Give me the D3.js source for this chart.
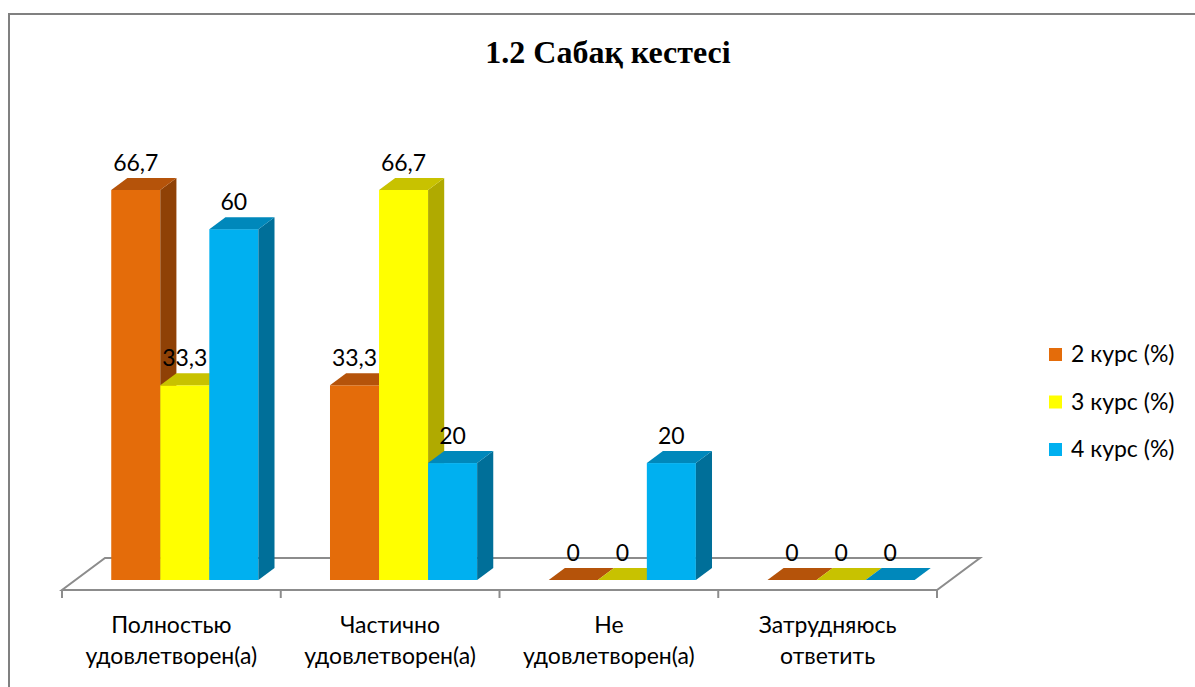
<!DOCTYPE html>
<html>
<head>
<meta charset="utf-8">
<script src="https://cdn.jsdelivr.net/npm/d3@7"></script>
<style>
  body { margin: 0; background: #fff; }
  svg text { font-family: Lato, "Open Sans", sans-serif; }
</style>
</head>
<body>
<div id="chart"></div>
<script>
// chart data
var categories = [["Полностью", "удовлетворен(а)"], ["Частично", "удовлетворен(а)"], ["Не", "удовлетворен(а)"], ["Затрудняюсь", "ответить"]];
var seriesNames = ["2 курс (%)", "3 курс (%)", "4 курс (%)"];
var kurs2 = [66.7, 33.3, 0, 0];
var kurs3 = [33.3, 66.7, 0, 0];
var kurs4 = [60, 20, 20, 0];
var seriesValues = [kurs2, kurs3, kurs4];

var colors = [
  { front: "#e46c0a", top: "#b5530a", side: "#8f4106" },
  { front: "#ffff00", top: "#c8c200", side: "#b0aa00" },
  { front: "#00b0f0", top: "#0088bb", side: "#006f99" }
];

var svgWidth = 1195, svgHeight = 687;

// floor geometry
var floorFront = 590;
var depthX = 43, depthY = 32;
var barPlane = 0.3125, barDepth = 0.375;

var svg = d3.select("#chart").append("svg")
  .attr("width", svgWidth)
  .attr("height", svgHeight);

// outer border
svg.append("rect")
  .attr("x", 9).attr("y", 14)
  .attr("width", 1300).attr("height", 800)
  .attr("fill", "none")
  .attr("stroke", "#808080")
  .attr("stroke-width", 2);

// title
svg.append("text")
  .attr("x", 608).attr("y", 63)
  .attr("text-anchor", "middle")
  .style("font-family", "'Liberation Serif', 'Times New Roman', serif")
  .style("font-weight", "bold")
  .style("font-size", "32px")
  .text("1.2 Сабақ кестесі");

var x0 = d3.scaleBand()
  .domain(d3.range(categories.length))
  .range([62, 937]);

var x1 = d3.scaleBand()
  .domain(d3.range(seriesNames.length))
  .range([0, x0.bandwidth()])
  .paddingOuter(0.73)
  .paddingInner(0);

var barBase = floorFront - depthY * barPlane;
var y = d3.scaleLinear()
  .domain([0, 66.7])
  .range([barBase, 190]);

// floor
var fl = x0.range()[0], fr = x0.range()[1];
svg.append("path")
  .attr("d", "M" + fl + "," + floorFront + "L" + fr + "," + floorFront +
    "L" + (fr + depthX) + "," + (floorFront - depthY) +
    "L" + (fl + depthX) + "," + (floorFront - depthY) + "Z")
  .attr("fill", "#fff")
  .attr("stroke", "#8c8c8c")
  .attr("stroke-width", 2);

// category ticks
svg.selectAll(".tick")
  .data(d3.range(categories.length + 1))
  .enter().append("line")
  .attr("x1", d => fl + d * x0.bandwidth())
  .attr("x2", d => fl + d * x0.bandwidth())
  .attr("y1", floorFront)
  .attr("y2", floorFront + 8)
  .attr("stroke", "#8c8c8c")
  .attr("stroke-width", 2);

var shiftX = depthX * barPlane;
var bdx = depthX * barDepth, bdy = depthY * barDepth;
var bw = x1.bandwidth();

categories.forEach(function(cat, ci) {
  seriesValues.forEach(function(vals, si) {
    var v = vals[ci];
    var xl = x0(ci) + x1(si) + shiftX;
    var xr = xl + bw;
    var yt = y(v);
    var g = svg.append("g");
    var c = colors[si];
    if (v > 0) {
      g.append("rect")
        .attr("x", xl).attr("y", yt)
        .attr("width", bw).attr("height", barBase - yt)
        .attr("fill", c.front);
      g.append("path")
        .attr("d", "M" + xr + "," + yt + "L" + (xr + bdx) + "," + (yt - bdy) +
          "L" + (xr + bdx) + "," + (barBase - bdy) + "L" + xr + "," + barBase + "Z")
        .attr("fill", c.side);
    }
    g.append("path")
      .attr("d", "M" + xl + "," + yt + "L" + xr + "," + yt +
        "L" + (xr + bdx) + "," + (yt - bdy) + "L" + (xl + bdx) + "," + (yt - bdy) + "Z")
      .attr("fill", c.top);
  });
});

// data labels (drawn last so they sit on top)
categories.forEach(function(cat, ci) {
  seriesValues.forEach(function(vals, si) {
    var v = vals[ci];
    svg.append("text")
      .attr("x", x0(ci) + x1(si) + shiftX + bw / 2)
      .attr("y", y(v) - bdy - 7)
      .attr("text-anchor", "middle")
      .style("font-size", "23px")
      .text(String(v).replace(".", ","));
  });
});

// category labels
categories.forEach(function(cat, ci) {
  var t = svg.append("text")
    .attr("text-anchor", "middle")
    .style("font-size", "23px");
  cat.forEach(function(line, li) {
    t.append("tspan")
      .attr("x", x0(ci) + x0.bandwidth() / 2)
      .attr("y", 633 + li * 31)
      .text(line);
  });
});

// legend
var legend = svg.append("g").attr("transform", "translate(1049, 348)");
seriesNames.forEach(function(name, i) {
  legend.append("rect")
    .attr("x", 0).attr("y", i * 47.5)
    .attr("width", 13).attr("height", 13)
    .attr("fill", colors[i].front);
  legend.append("text")
    .attr("x", 22).attr("y", i * 47.5 + 14)
    .style("font-size", "23px")
    .text(name);
});
</script>
</body>
</html>
